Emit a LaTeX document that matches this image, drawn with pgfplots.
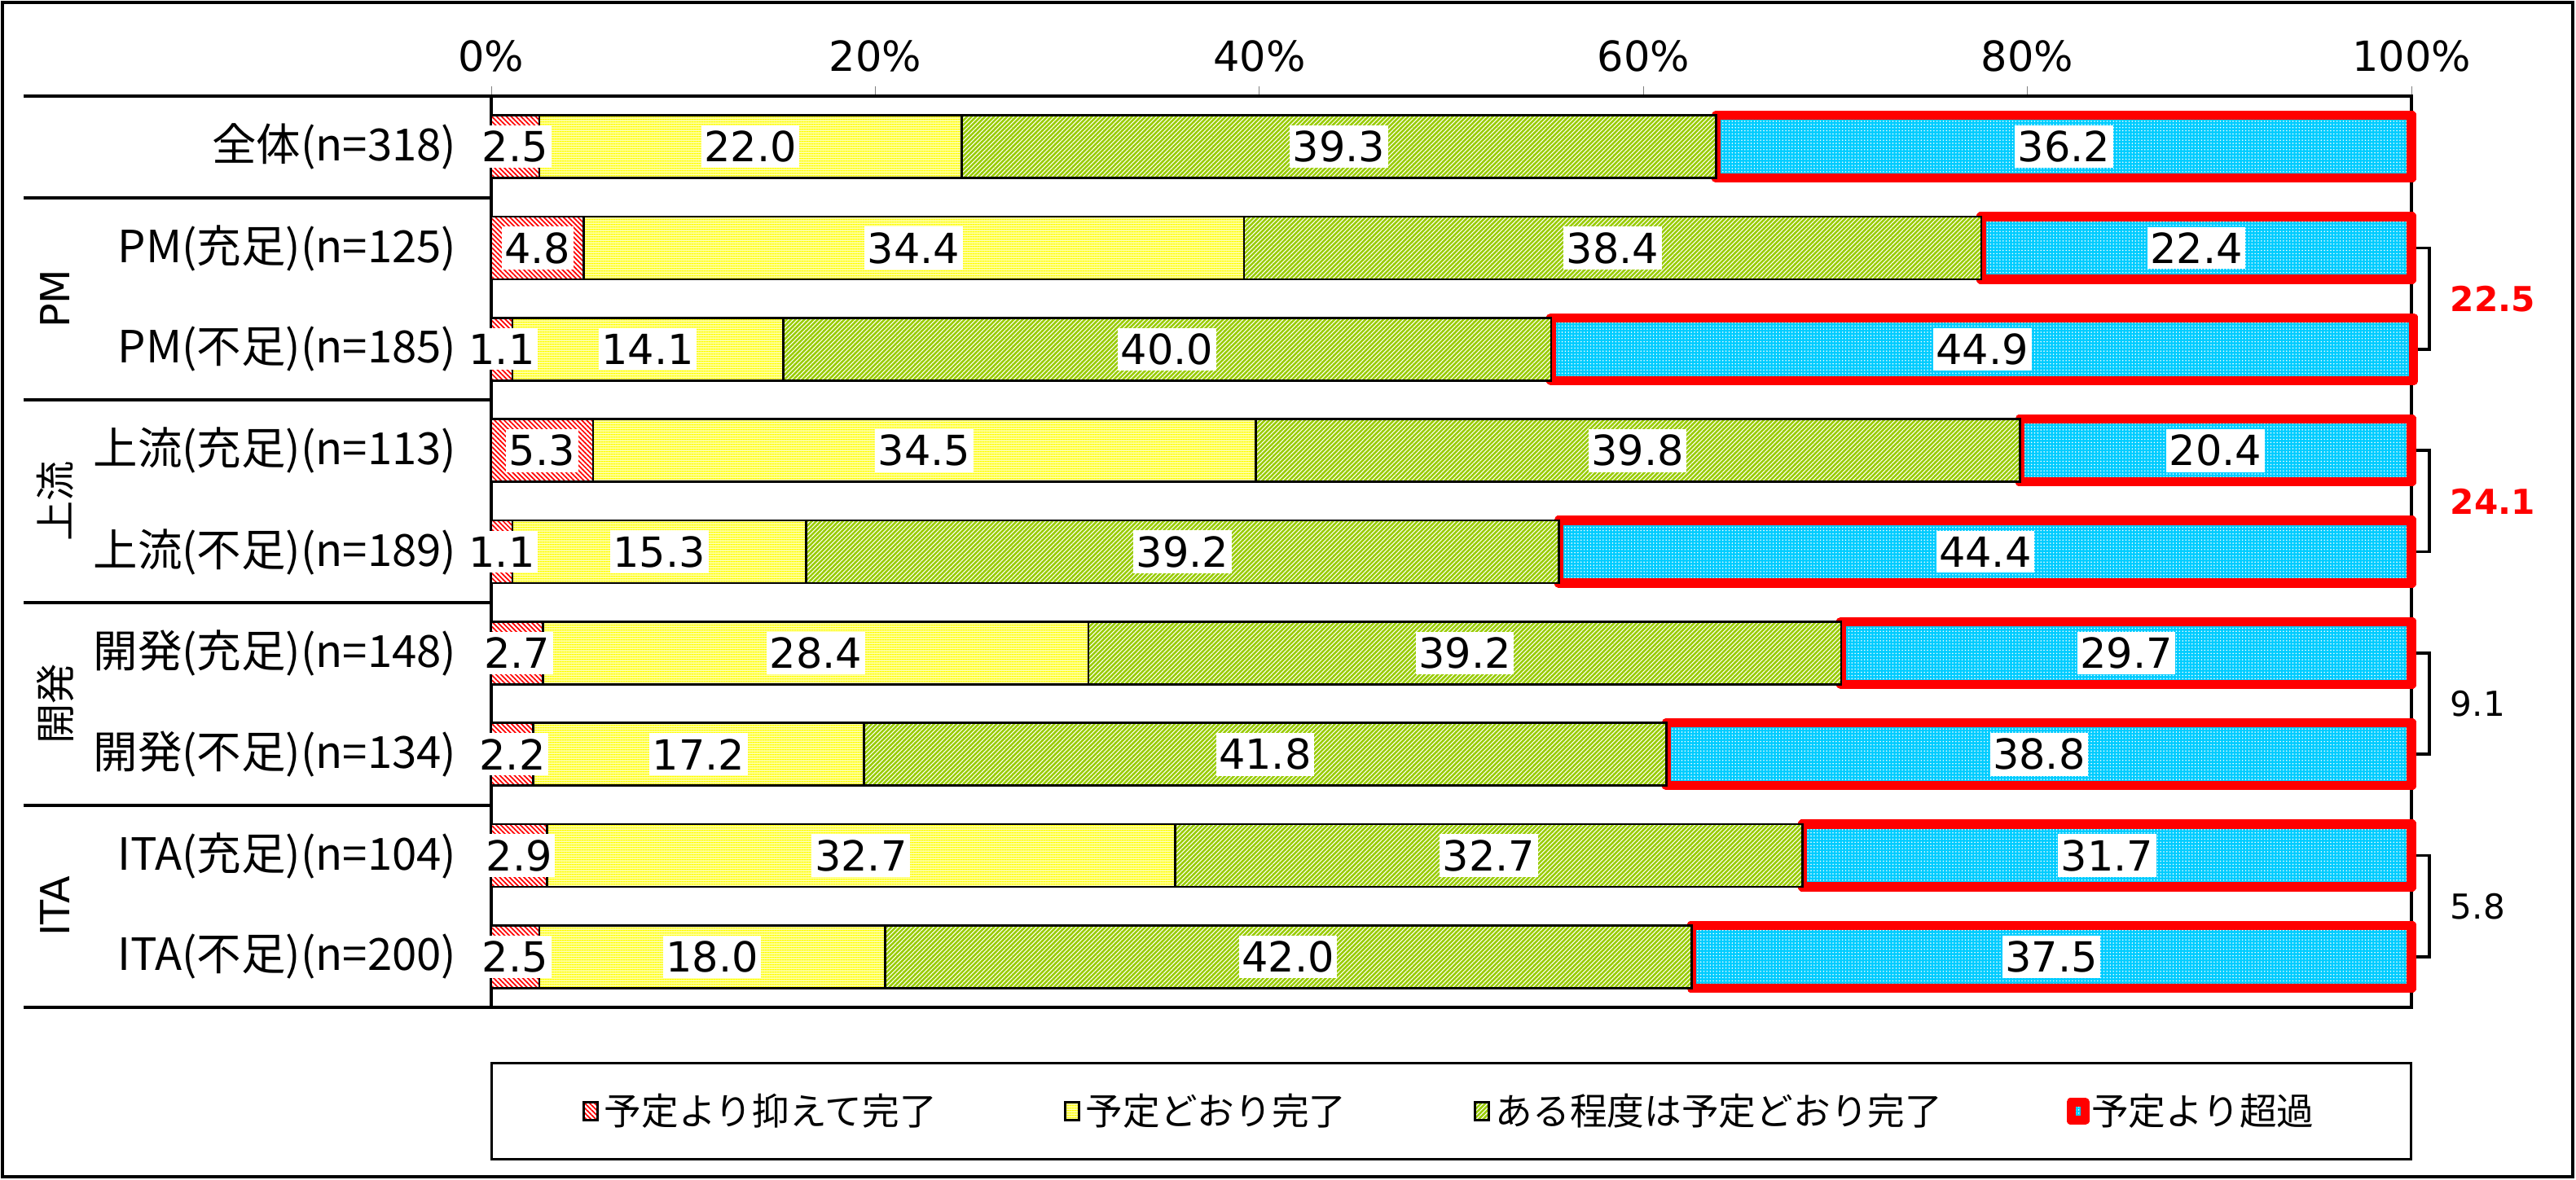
\documentclass[border=0pt]{standalone}
\usepackage{fontspec}
\setmainfont{Noto Sans CJK JP}
\newfontfamily\numfont{DejaVu Sans}
\usepackage{pgfplots}
\pgfplotsset{compat=1.18}
\usepackage{pgfplotstable}
\usetikzlibrary{patterns,patterns.meta}

\definecolor{sgreen}{HTML}{99CC00}
\definecolor{scyan}{HTML}{00CCFF}
\definecolor{sred}{HTML}{FF0000}
\definecolor{syellow}{HTML}{FFFF00}
\definecolor{spale}{HTML}{FFFFB0}

\pgfplotstableread{
row a b c d
0 2.5 22.0 39.3 36.2
1 4.8 34.4 38.4 22.4
2 1.1 14.1 40.0 44.9
3 5.3 34.5 39.8 20.4
4 1.1 15.3 39.2 44.4
5 2.7 28.4 39.2 29.7
6 2.2 17.2 41.8 38.8
7 2.9 32.7 32.7 31.7
8 2.5 18.0 42.0 37.5
}\datatab

\pgfplotsset{
  s1/.style={preaction={fill=white}, preaction={pattern={Lines[angle=-45,distance=1.2pt,line width=0.5pt]}, pattern color=sred}, draw=black, line width=0.8pt},
  s2/.style={preaction={fill=spale}, preaction={pattern={Lines[angle=0,distance=0.9pt,line width=0.5pt]}, pattern color=syellow}, draw=black, line width=0.8pt},
  s3/.style={preaction={fill=sgreen}, preaction={pattern={Lines[angle=45,distance=1.1pt,line width=0.3pt]}, pattern color=white}, draw=black, line width=0.8pt},
  s4/.style={preaction={fill=scyan}, preaction={pattern={Dots[radius=0.25pt,distance=1.1pt]}, pattern color=white}, draw=sred, line width=3.2pt, line join=round},
  lab/.style={draw=none, mark=none, only marks, nodes near coords, point meta=explicit symbolic,
    every node near coord/.append style={anchor=center, fill=white, inner xsep=1pt, inner ysep=2pt, text=black, font=\numfont\fontsize{14.5}{17}\selectfont}},
}

\begin{document}
\begin{tikzpicture}
\useasboundingbox (0,0) rectangle (31.62,-14.48);
\draw[line width=1.1pt] (0.03,-0.03) rectangle (31.58,-14.45);
\foreach \yy in {1.18,2.43,4.91,7.40,9.89,12.37}
  \draw[line width=0.9pt] (0.29,-\yy) -- (6.03,-\yy);
\node[rotate=90, font=\numfont\fontsize{14}{16}\selectfont] at (0.68,-3.667) {PM};
\node[rotate=90, font=\fontsize{14}{16}\selectfont] at (0.68,-6.153) {上流};
\node[rotate=90, font=\fontsize{14}{16}\selectfont] at (0.68,-8.64) {開発};
\node[rotate=90, font=\numfont\fontsize{14}{16}\selectfont] at (0.68,-11.127) {ITA};

\begin{axis}[
  at={(6.03cm,-1.18cm)}, anchor=north west,
  scale only axis, width=23.57cm, height=11.19cm,
  xbar stacked, bar width=0.62,
  xmin=0, xmax=100, ymin=-0.5, ymax=8.5, y dir=reverse,
  xtick={0,20,...,100}, xticklabels={0\%,20\%,40\%,60\%,80\%,100\%},
  xticklabel pos=right, xtick pos=right, tick align=outside,
  major tick length=0.12cm,
  xticklabel style={font=\numfont\fontsize{14.5}{17}\selectfont, yshift=0.05cm},
  ytick={0,...,8},
  yticklabels={全体(n=318),PM(充足)(n=125),PM(不足)(n=185),上流(充足)(n=113),上流(不足)(n=189),開発(充足)(n=148),開発(不足)(n=134),ITA(充足)(n=104),ITA(不足)(n=200)},
  ytick style={draw=none},
  yticklabel style={font=\fontsize{15.5}{18}\selectfont, anchor=east, inner sep=0pt, xshift=-0.30cm},
  axis line style={line width=0.9pt},
  clip=false,
  legend columns=4,
  legend style={at={(0.5,-0.114)}, anchor=center, draw=black, line width=0.9pt, inner xsep=1.12cm, inner ysep=0.3cm,
    font=\fontsize{13}{15}\selectfont, /tikz/every even column/.append style={column sep=1.5cm}},
  legend image code/.code={\draw[line width=0.6pt,#1] (0cm,-0.11cm) rectangle (0.17cm,0.11cm);},
]
\addplot[s1] table[x=a,y=row]{\datatab};
\addplot[s2] table[x=b,y=row]{\datatab};
\addplot[s3] table[x=c,y=row]{\datatab};
\addplot[s4] table[x=d,y=row]{\datatab};
\legend{予定より抑えて完了,予定どおり完了,ある程度は予定どおり完了,予定より超過}
\draw[line width=1pt] (axis cs:100.25,1) -- (axis cs:100.93,1) -- (axis cs:100.93,2) -- (axis cs:100.25,2);
\draw[line width=1pt] (axis cs:100.25,3) -- (axis cs:100.93,3) -- (axis cs:100.93,4) -- (axis cs:100.25,4);
\draw[line width=1pt] (axis cs:100.25,5) -- (axis cs:100.93,5) -- (axis cs:100.93,6) -- (axis cs:100.25,6);
\draw[line width=1pt] (axis cs:100.25,7) -- (axis cs:100.93,7) -- (axis cs:100.93,8) -- (axis cs:100.25,8);
\node[anchor=west, text=sred, font=\numfont\bfseries\fontsize{12}{14}\selectfont] at (axis cs:101.5,1.5) {22.5};
\node[anchor=west, text=sred, font=\numfont\bfseries\fontsize{12}{14}\selectfont] at (axis cs:101.5,3.5) {24.1};
\node[anchor=west, font=\numfont\fontsize{12}{14}\selectfont] at (axis cs:101.5,5.5) {9.1};
\node[anchor=west, font=\numfont\fontsize{12}{14}\selectfont] at (axis cs:101.5,7.5) {5.8};
\end{axis}

\begin{axis}[
  at={(6.03cm,-1.18cm)}, anchor=north west,
  scale only axis, width=23.57cm, height=11.19cm,
  xmin=0, xmax=100, ymin=-0.5, ymax=8.5, y dir=reverse,
  hide axis, clip=false,
]
\addplot[lab] table[x expr=\thisrow{a}/2, y=row, meta=a]{\datatab};
\addplot[lab] table[x expr=\thisrow{a}+\thisrow{b}/2, y=row, meta=b]{\datatab};
\addplot[lab] table[x expr=\thisrow{a}+\thisrow{b}+\thisrow{c}/2, y=row, meta=c]{\datatab};
\addplot[lab] table[x expr=\thisrow{a}+\thisrow{b}+\thisrow{c}+\thisrow{d}/2, y=row, meta=d]{\datatab};
\end{axis}
\end{tikzpicture}
\end{document}
